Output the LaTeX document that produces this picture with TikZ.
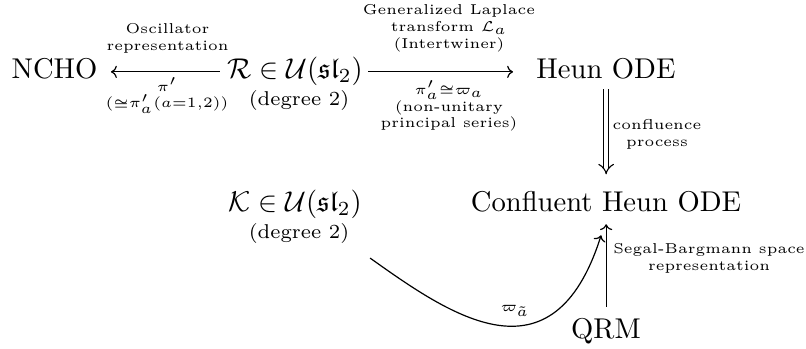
\documentclass[tikz,border=0pt]{standalone}
\usepackage{amsmath,amssymb}
\usetikzlibrary{arrows.meta,calc}
\begin{document}
\begin{tikzpicture}[x=0.34965pt,y=-0.34965pt,scale=1.43,
  every node/.style={transform shape,inner sep=0pt},
  main/.style={font=\normalsize, anchor=base},
  deg/.style={font=\scriptsize, anchor=base},
  lab/.style={font=\fontsize{5}{5.9}\selectfont, align=center},
  cdar/.style={line width=0.6pt,-{Computer Modern Rightarrow[]}},
  dbl/.style={double,double distance=2.2pt,line width=0.55pt,-{Implies}}]
\useasboundingbox (0,0) rectangle (806,349);

\node[main] (ncho) at (54.5,78) {NCHO};
\node[main] (R) at (295,78) {$\mathcal{R}\in\mathcal{U}(\mathfrak{sl}_2)$};
\node[deg] (Rdeg) at (299,105) {(degree 2)};
\node[main] (heun) at (606,78) {Heun ODE};
\node[main] (K) at (295,211) {$\mathcal{K}\in\mathcal{U}(\mathfrak{sl}_2)$};
\node[deg] (Kdeg) at (299,238) {(degree 2)};
\node[main] (CH) at (606,211) {Confluent Heun ODE};
\node[main] (QRM) at (606,338) {QRM};
\coordinate (cstart) at (370,258);

\draw[cdar, shorten <=3.5pt, shorten >=6.5pt] (R.mid west) -- (ncho.mid east);
\draw[cdar, shorten <=2.5pt, shorten >=11.5pt] (R.mid east) -- (heun.mid west);
\draw[dbl, shorten <=5pt, shorten >=8pt] (heun.south) -- (CH.north);
\draw[cdar, shorten <=5.25pt, shorten >=6pt] (QRM.north) -- (CH.south);
\draw[cdar] (cstart) .. controls +(80,57) and +(-48,152) .. ($(CH.south)+(-5,23)$);

\node[lab] (l1) at (167.5,38) {Oscillator\\representation};
\node[lab] (l2) at (167,95.5) {$\scriptstyle\pi'$\\$\scriptstyle(\cong\pi'_a(a=1,2))$};
\node[lab] (l3) at (449,28.5) {Generalized Laplace\\transform $\scriptstyle\mathcal{L}_a$\\(Intertwiner)};
\node[lab] (l4) at (449,106) {$\scriptstyle\pi'_a\cong\varpi_a$\\(non-unitary\\principal series)};
\node[lab] (l5) at (657,134) {confluence\\process};
\node[lab] (l6) at (709,258) {Segal-Bargmann space\\representation};
\node[lab] (l7) at (515,311) {$\scriptstyle\varpi_{\tilde a}$};
\end{tikzpicture}
\end{document}
